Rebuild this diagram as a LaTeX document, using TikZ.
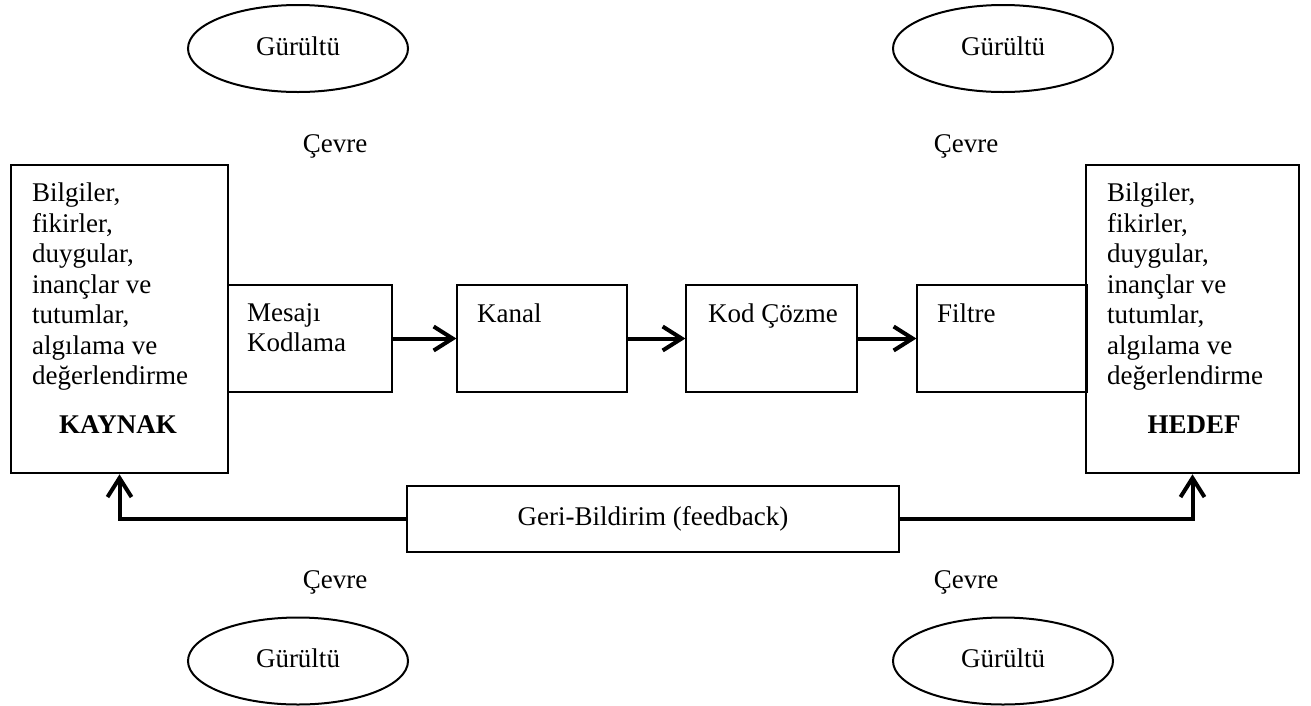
\documentclass[tikz,border=0pt]{standalone}
\usepackage{fontspec}
\setmainfont{Liberation Serif}
\usetikzlibrary{shapes.geometric,arrows.meta}
\begin{document}
\begin{tikzpicture}[x=1pt,y=-1pt,
  every node/.style={font=\fontsize{27}{30.5}\selectfont, inner sep=0pt},
  bigbox/.style={draw, line width=2.6pt, minimum height=308pt},
  smallbox/.style={draw, line width=1.2pt, minimum height=107pt},
  fbbox/.style={draw, line width=2pt, minimum width=492pt, minimum height=66pt},
  noise/.style={draw, ellipse, line width=2pt, minimum width=220pt, minimum height=87pt},
  txt/.style={align=left},
  flow/.style={line width=4pt, -{Straight Barb[length=19pt,width=24pt,line width=4pt]}}
]
\useasboundingbox (0,0) rectangle (1311,705);
% ellipses
\node[noise] (n1) at (298,48.5) {\raisebox{5pt}{Gürültü}};
\node[noise] (n2) at (1003,48.5) {\raisebox{5pt}{Gürültü}};
\node[noise] (n3) at (298,661) {\raisebox{5pt}{Gürültü}};
\node[noise] (n4) at (1003,661) {\raisebox{5pt}{Gürültü}};
% environment labels
\node (c1) at (335,146) {Çevre};
\node (c2) at (966,146) {Çevre};
\node (c3) at (335,582) {Çevre};
\node (c4) at (966,582) {Çevre};
% source / target boxes
\node[bigbox, minimum width=217pt] (src) at (119.5,319) {};
\node[bigbox, minimum width=213pt] (dst) at (1192.5,319) {};
\node[txt, anchor=north west] (srct) at (32,183) {Bilgiler,\\fikirler,\\duygular,\\inançlar ve\\tutumlar,\\algılama ve\\değerlendirme};
\node[anchor=base, font=\fontsize{27}{30.5}\selectfont\bfseries] (srck) at (118,433) {KAYNAK};
\node[txt, anchor=north west] (dstt) at (1107,183) {Bilgiler,\\fikirler,\\duygular,\\inançlar ve\\tutumlar,\\algılama ve\\değerlendirme};
\node[anchor=base, font=\fontsize{27}{30.5}\selectfont\bfseries] (dstk) at (1194,433) {HEDEF};
% process boxes
\node[smallbox, minimum width=164pt] (kod) at (310,338.5) {};
\node[smallbox, minimum width=170pt] (kanal) at (542,338.5) {};
\node[smallbox, minimum width=171pt] (coz) at (771.5,338.5) {};
\node[smallbox, minimum width=170pt] (fil) at (1002,338.5) {};
\node[txt, anchor=north west] (kodt) at (247,303) {Mesajı\\Kodlama};
\node[anchor=base west] (kanalt) at (477,322) {Kanal};
\node[anchor=base west] (cozt) at (708,322) {Kod Çözme};
\node[anchor=base west] (filt) at (937,322) {Filtre};
% arrows
\draw[flow] (kod.east) -- (kanal.west);
\draw[flow] (kanal.east) -- (coz.west);
\draw[flow] (coz.east) -- (fil.west);
% feedback
\node[fbbox] (fb) at (653,519) {Geri-Bildirim (feedback)};
\draw[flow] (fb.west) -| (src.south);
\draw[flow] (fb.east) -| (dst.south);
\end{tikzpicture}
\end{document}
